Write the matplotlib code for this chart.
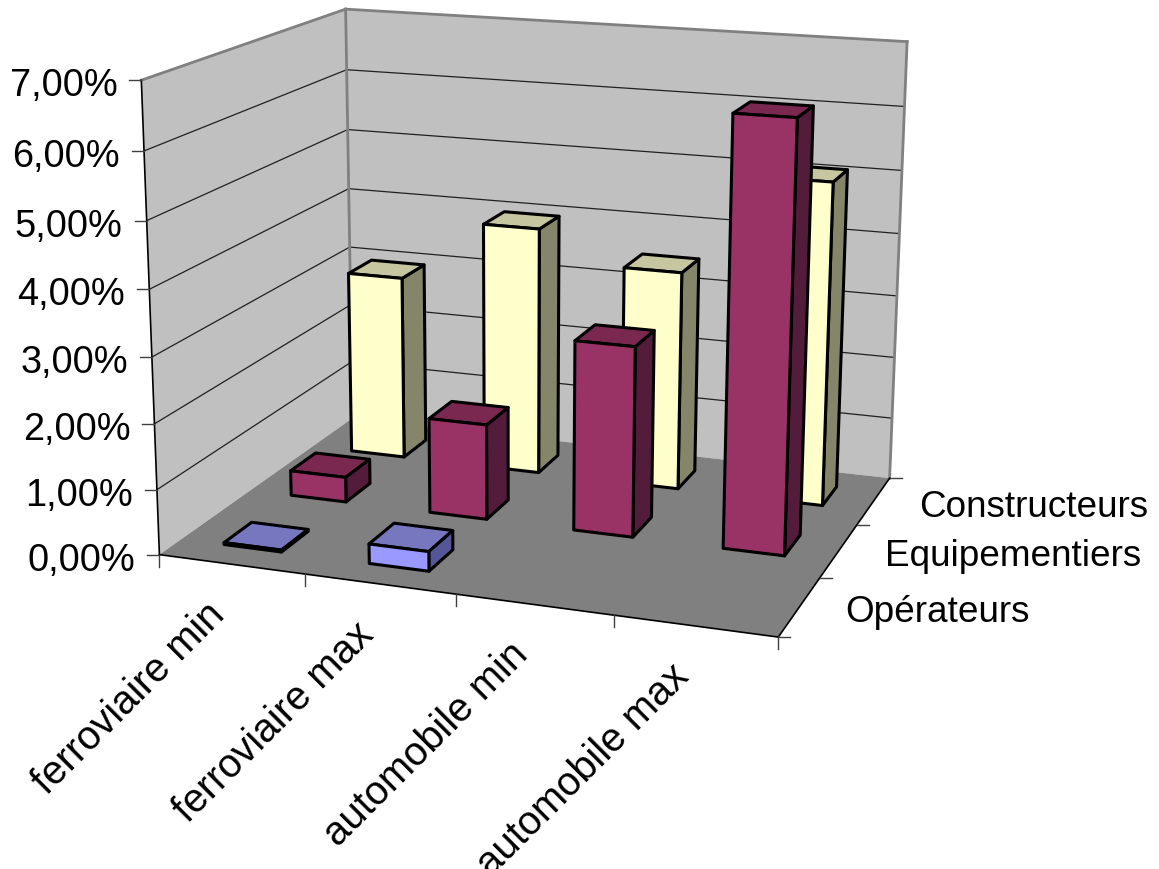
import numpy as np
import matplotlib
matplotlib.use("Agg")
from matplotlib import pyplot as plt
from mpl_toolkits.mplot3d.art3d import Poly3DCollection

plt.rcParams["font.family"] = ["Liberation Sans", "DejaVu Sans"]

W, H = 1159, 870

categories = ["ferroviaire min", "ferroviaire max", "automobile min", "automobile max"]
series_names = ["Opérateurs", "Equipementiers", "Constructeurs"]
percent_ticks = ["0,00%", "1,00%", "2,00%", "3,00%", "4,00%", "5,00%", "6,00%", "7,00%"]

operateurs = [0.03, 0.30, 0.0, 0.0]
equipementiers = [0.40, 1.50, 2.95, 6.50]
constructeurs = [3.00, 4.00, 3.50, 5.10]

# face colours of each series: front, side, top
colors_op = ["#9999ff", "#555599", "#7777c0"]
colors_eq = ["#993366", "#531c3a", "#7a2850"]
colors_co = ["#ffffcc", "#85856a", "#c6c6a0"]

ZMAX = 7.0
BAR_LO, BAR_HI = 0.3, 0.7

# camera: least squares fit of a 3x4 projective matrix on the box corners
box_world = [(0, 0, 0), (4, 0, 0), (4, 3, 0), (0, 3, 0), (0, 3, ZMAX), (4, 3, ZMAX), (0, 0, ZMAX)]
box_pixel = [(160, 555), (778, 639), (890, 478), (352, 420), (346, 10), (907, 43), (141, 81)]


def fit_camera(world, pixel):
    rows = []
    rhs = []
    for (x, y, z), (u, v) in zip(world, pixel):
        rows.append([x, y, z, 1, 0, 0, 0, 0, -u * x, -u * y, -u * z])
        rows.append([0, 0, 0, 0, x, y, z, 1, -v * x, -v * y, -v * z])
        rhs += [u, v]
    p = np.linalg.lstsq(np.array(rows, float), np.array(rhs, float), rcond=None)[0]
    return np.append(p, 1.0).reshape(3, 4)


CAM = fit_camera(box_world, box_pixel)


def to_pixel(x, y, z):
    u, v, w = CAM @ np.array([x, y, z, 1.0])
    return u / w, v / w


fig = plt.figure(figsize=(W / 100, H / 100), dpi=100)
# 3d axes stay square, so make the square as wide as the figure
ax = fig.add_axes([0, (H - W) / 2 / H, 1, W / H], projection="3d", computed_zorder=False)
ax.set_axis_off()


def get_proj():
    flip = np.array([[1, 0, 0], [0, -1, H], [0, 0, 1]], float)
    q = ax.transData.inverted().get_matrix() @ flip @ CAM
    # depth has to stay negative or Line3D clips the points away
    return np.vstack([q[0], q[1], [0, 1, 0, -10], q[2]])


ax.get_proj = get_proj


def add_poly(corners, face, z=1):
    ax.add_collection3d(Poly3DCollection([corners], facecolors=face, edgecolors="none", zorder=z))


def add_line(p0, p1, color="black", lw=1.0, z=2):
    xs, ys, zs = zip(p0, p1)
    ax.plot(xs, ys, zs, color=color, lw=lw, zorder=z, solid_capstyle="projecting")


# walls and floor
add_poly([(0, 0, 0), (0, 3, 0), (0, 3, ZMAX), (0, 0, ZMAX)], "#c0c0c0")
add_poly([(0, 3, 0), (4, 3, 0), (4, 3, ZMAX), (0, 3, ZMAX)], "#c0c0c0")
add_poly([(0, 0, 0), (4, 0, 0), (4, 3, 0), (0, 3, 0)], "#808080")

for v in range(1, 7):
    add_line((0, 0, v), (0, 3, v), "#202020", 0.9)
    add_line((0, 3, v), (4, 3, v), "#202020", 0.9)

add_line((0, 0, ZMAX), (0, 3, ZMAX), "#808080", 2.0)
add_line((0, 3, ZMAX), (4, 3, ZMAX), "#808080", 2.0)
add_line((4, 3, ZMAX), (4, 3, 0), "#808080", 2.0)
add_line((0, 3, 0), (0, 3, ZMAX), "#808080", 2.0)
add_line((0, 0, 0), (0, 0, ZMAX), "black", 1.2)
add_line((0, 0, 0), (4, 0, 0), "black", 1.2)
add_line((4, 0, 0), (4, 3, 0), "black", 1.2)


def draw_bar(cat, ser, value, colors, z):
    x0, x1 = cat + BAR_LO, cat + BAR_HI
    y0, y1 = ser + BAR_LO, ser + BAR_HI
    faces = [
        [(x0, y0, 0), (x1, y0, 0), (x1, y0, value), (x0, y0, value)],
        [(x1, y0, 0), (x1, y1, 0), (x1, y1, value), (x1, y0, value)],
        [(x0, y0, value), (x1, y0, value), (x1, y1, value), (x0, y1, value)],
    ]
    ax.add_collection3d(Poly3DCollection(faces, facecolors=colors, edgecolors="black", linewidths=2.2, zorder=z))


# back row first so nearer bars cover it
for ser, (vals, cols) in reversed(list(enumerate([(operateurs, colors_op), (equipementiers, colors_eq), (constructeurs, colors_co)]))):
    for cat, val in enumerate(vals):
        if val > 0:
            draw_bar(cat, ser, val, cols, 10 + (2 - ser) * 10 + cat)

# tick marks and labels, placed from the projected axis positions
TICK_COLOR = "#404040"
for v, lab in enumerate(percent_ticks):
    px, py = to_pixel(0, 0, v)
    fig.add_artist(plt.Line2D([(px - 12) / W, px / W], [1 - py / H, 1 - py / H], color=TICK_COLOR, lw=1.0))
    fig.text((px - 24) / W, 1 - (py + 5) / H, lab, fontsize=27.4, ha="right", va="center")

for i in range(5):
    px, py = to_pixel(i, 0, 0)
    fig.add_artist(plt.Line2D([px / W, px / W], [1 - py / H, 1 - (py + 12) / H], color=TICK_COLOR, lw=1.0))

for i, lab in enumerate(categories):
    px, py = to_pixel(i + 0.5, 0, 0)
    fig.text((px - 26) / W, 1 - (py + 30) / H, lab, fontsize=28.8, rotation=45, ha="right", va="top", rotation_mode="anchor")

for j in range(4):
    px, py = to_pixel(4, j, 0)
    fig.add_artist(plt.Line2D([px / W, (px + 12) / W], [1 - py / H, 1 - py / H], color=TICK_COLOR, lw=1.0))

for j, lab in enumerate(series_names):
    px, py = to_pixel(4, j + 0.5, 0)
    fig.text((px + 46) / W, 1 - (py + 5) / H, lab, fontsize=26.6, ha="left", va="center")

fig.savefig("out.png", dpi=100)
